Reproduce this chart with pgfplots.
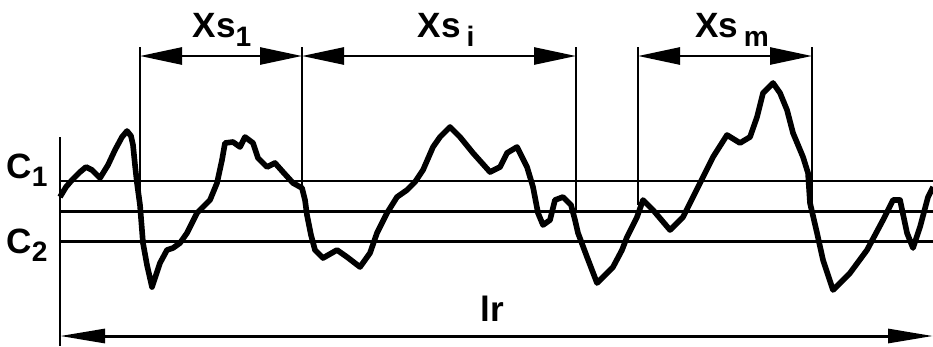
\documentclass[border=0pt]{standalone}
\usepackage{pgfplots}
\pgfplotsset{compat=1.18}
\usepackage{fontspec}
\setmainfont{Liberation Sans}
\usetikzlibrary{arrows.meta}
\newcommand{\sub}[1]{\raisebox{-0.45ex}{\fontsize{8}{9}\selectfont #1}}
\begin{document}
\begin{tikzpicture}
\useasboundingbox (0,0) rectangle (9.33cm,3.46cm);
\begin{axis}[at={(0,0)}, anchor=south west, scale only axis,
  width=9.33cm, height=3.46cm, xmin=0, xmax=933, ymin=0, ymax=346,
  y dir=reverse, hide axis, clip=false]
% reference lines
\addplot[black, line width=0.85pt] coordinates {(60,181)(933,181)};
\addplot[black, line width=0.85pt] coordinates {(60,211)(933,211)};
\addplot[black, line width=0.85pt] coordinates {(60,241)(933,241)};
\addplot[black, line width=0.85pt] coordinates {(60,137)(60,346)};
% vertical markers
\addplot[black, line width=0.75pt] coordinates {(140,47)(140,210)};
\addplot[black, line width=0.75pt] coordinates {(302,47)(302,188)};
\addplot[black, line width=0.75pt] coordinates {(576,47)(576,212)};
\addplot[black, line width=0.75pt] coordinates {(638,47)(638,205)};
\addplot[black, line width=0.75pt] coordinates {(812,47)(812,207)};
% dimension arrows
\addplot[black, line width=0.75pt, {Triangle[length=0.42cm,width=0.17cm]}-{Triangle[length=0.42cm,width=0.17cm]}] coordinates {(140,56)(302,56)};
\addplot[black, line width=0.75pt, {Triangle[length=0.42cm,width=0.17cm]}-{Triangle[length=0.42cm,width=0.17cm]}] coordinates {(302,56)(576,56)};
\addplot[black, line width=0.75pt, {Triangle[length=0.42cm,width=0.17cm]}-{Triangle[length=0.42cm,width=0.17cm]}] coordinates {(638,56)(812,56)};
\addplot[black, line width=0.85pt, {Triangle[length=0.45cm,width=0.14cm]}-{Triangle[length=0.45cm,width=0.14cm]}] coordinates {(60,336)(933,336)};
% profile
\addplot[black, line width=1.6pt, line join=round] coordinates {
(60,197)(66,187)(72,180)(80,172)(86,167)(92,170)(100,178)(108,165)(115,150)(122,137)(127,131)(131,136)(133,145)(135,165)(137,183)(140,205)(143,243)(147,265)(152,287)(156,275)(160,263)(167,250)(173,248)(180,243)(187,233)(197,213)(210,200)(217,183)(222,160)(225,143)(233,142)(240,147)(245,137)(253,143)(258,158)(267,167)(275,163)(283,172)(293,183)(302,188)(305,200)(307,215)(311,235)(315,250)(323,258)(337,250)(347,257)(360,267)(370,253)(377,233)(387,213)(397,197)(407,190)(415,182)(423,170)(433,147)(440,137)(450,127)(460,137)(473,153)(490,172)(500,167)(507,153)(517,147)(527,167)(533,187)(538,213)(543,225)(550,220)(555,200)(563,197)(571,205)(575,220)(578,233)(587,257)(597,283)(607,273)(613,267)(622,250)(627,237)(637,217)(643,200)(653,210)(670,230)(683,217)(700,183)(713,157)(727,135)(740,143)(750,137)(757,117)(763,93)(773,83)(780,93)(787,110)(793,133)(803,157)(808,173)(810,203)(817,233)(823,260)(833,290)(850,273)(867,250)(883,220)(893,200)(900,200)(907,233)(913,248)(920,227)(928,197)(933,187)};
% labels
\node[font=\fontsize{10}{12}\selectfont\bfseries] at (axis cs:222,30) {Xs\sub{1}};
\node[font=\fontsize{10}{12}\selectfont\bfseries] at (axis cs:446,30) {Xs\,\sub{i}};
\node[font=\fontsize{10}{12}\selectfont\bfseries] at (axis cs:732,30) {Xs\,\sub{m}};
\node[font=\fontsize{10}{12}\selectfont\bfseries] at (axis cs:27,170) {C\sub{1}};
\node[font=\fontsize{10}{12}\selectfont\bfseries] at (axis cs:27,245) {C\sub{2}};
\node[font=\fontsize{10}{12}\selectfont\bfseries] at (axis cs:492,309) {lr};
\end{axis}
\end{tikzpicture}
\end{document}
